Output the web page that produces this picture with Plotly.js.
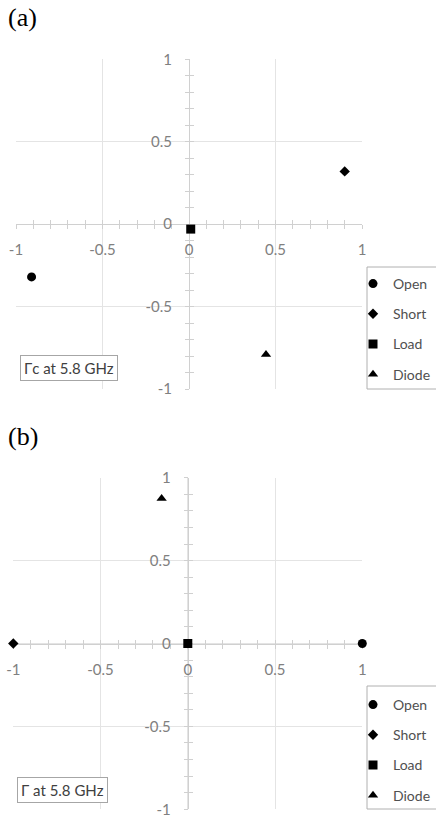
<!DOCTYPE html>
<html>
<head>
<meta charset="utf-8">
<script src="https://cdn.plot.ly/plotly-3.0.1.min.js"></script>
<style>
html,body{margin:0;padding:0;background:#fff;}
#chart{width:436px;height:818px;}
</style>
</head>
<body>
<div id="chart"></div>
<script>
// ---- data ----
const seriesNames = ["Open", "Short", "Load", "Diode"];
const symbols = ["circle", "diamond", "square", "triangle-up"];
const sizes = [9, 8, 9, 9];
// panel (a): Γc at 5.8 GHz
const aRe = [-0.91, 0.90, 0.01, 0.445];
const aIm = [-0.32, 0.32, -0.03, -0.79];
// panel (b): Γ at 5.8 GHz
const bRe = [1.0, -1.0, 0.0, -0.15];
const bIm = [0.0, 0.0, 0.0, 0.875];
const tickVals = [-1, -0.5, 0, 0.5, 1];
const tickText = ["-1", "-0.5", "0", "0.5", "1"];
const panelLabels = ["(a)", "(b)"];
const boxTexts = ["Γc at 5.8 GHz", "Γ at 5.8 GHz"];

// ---- layout geometry ----
const W = 436, H = 818;
const px = (v) => v / W;
const py = (v) => 1 - v / H;
const dom = {
  a: {x: [px(16), px(362)], y: [py(389), py(59.3)]},
  b: {x: [px(13.3), px(362.3)], y: [py(809.3), py(477.7)]}
};
const mid = (d) => (d[0] + d[1]) / 2;

const tickFont = {family: "Lato, 'Open Sans', sans-serif", size: 15, color: "#808080"};
const gridC = "#e4e4e4", lineC = "#d0d0d0";

function mainX(d, anchorMid) {
  return {
    domain: d.x, range: [-1, 1], anchor: "free", position: anchorMid, layer: "below traces",
    tickvals: tickVals, ticktext: tickText, tickfont: tickFont,
    ticks: "outside", ticklen: 4, tickcolor: lineC, tickwidth: 1,
    minor: {dtick: 0.1, ticks: "outside", ticklen: 4, tickcolor: lineC, showgrid: false},
    showgrid: true, gridcolor: gridC, gridwidth: 1,
    showline: true, linecolor: lineC, linewidth: 1,
    zeroline: false, ticklabelstandoff: 8, fixedrange: true, automargin: false
  };
}
function mainY(d, anchorMid) {
  return {
    domain: d.y, range: [-1, 1], anchor: "free", position: anchorMid, layer: "below traces",
    tickvals: tickVals, ticktext: tickText, tickfont: tickFont,
    ticks: "outside", ticklen: 4, tickcolor: lineC, tickwidth: 1,
    minor: {dtick: 0.1, ticks: "outside", ticklen: 4, tickcolor: lineC, showgrid: false},
    showgrid: true, gridcolor: gridC, gridwidth: 1,
    showline: true, linecolor: lineC, linewidth: 1,
    zeroline: false, ticklabelstandoff: 10, fixedrange: true, automargin: false
  };
}
function overX(d, anchorMid, ov) {
  return {
    domain: d.x, range: [-1, 1], anchor: "free", position: anchorMid, overlaying: ov, layer: "below traces",
    tickvals: tickVals, showticklabels: false,
    ticks: "inside", ticklen: 4, tickcolor: lineC, tickwidth: 1,
    minor: {dtick: 0.1, ticks: "inside", ticklen: 4, tickcolor: lineC, showgrid: false},
    showgrid: false, showline: false, zeroline: false, fixedrange: true, automargin: false
  };
}
function overY(d, anchorMid, ov) {
  return {
    domain: d.y, range: [-1, 1], anchor: "free", position: anchorMid, overlaying: ov, layer: "below traces",
    tickvals: tickVals, showticklabels: false,
    ticks: "inside", ticklen: 4, tickcolor: lineC, tickwidth: 1,
    minor: {dtick: 0.1, ticks: "inside", ticklen: 4, tickcolor: lineC, showgrid: false},
    showgrid: false, showline: false, zeroline: false, fixedrange: true, automargin: false
  };
}

const traces = [];
// carriers for the overlay tick axes (no data)
traces.push({type: "scatter", x: [], y: [], xaxis: "x3", yaxis: "y3", showlegend: false, hoverinfo: "skip"});
traces.push({type: "scatter", x: [], y: [], xaxis: "x4", yaxis: "y4", showlegend: false, hoverinfo: "skip"});
seriesNames.forEach((n, i) => {
  traces.push({
    type: "scatter", mode: "markers", name: n, x: [aRe[i]], y: [aIm[i]],
    xaxis: "x", yaxis: "y", legend: "legend", legendgroup: "a" + i,
    marker: {symbol: symbols[i], size: sizes[i], color: "#000"}, cliponaxis: false,
    hoverinfo: "skip"
  });
});
seriesNames.forEach((n, i) => {
  traces.push({
    type: "scatter", mode: "markers", name: n, x: [bRe[i]], y: [bIm[i]],
    xaxis: "x2", yaxis: "y2", legend: "legend2", legendgroup: "b" + i,
    marker: {symbol: symbols[i], size: sizes[i], color: "#000"}, cliponaxis: false,
    hoverinfo: "skip"
  });
});

const legendFont = {family: "Lato, 'Open Sans', sans-serif", size: 14, color: "#505050"};
function legendCfg(yTop) {
  return {
    x: px(353), xanchor: "left", y: yTop, yanchor: "top",
    bgcolor: "rgba(0,0,0,0)", borderwidth: 0,
    font: legendFont, tracegroupgap: 9, itemclick: false, itemdoubleclick: false
  };
}
// legend frames (open at the right, as in the cropped original)
const legendBoxes = [
  {x0: px(367), x1: 1.02, y0: py(389), y1: py(267)},
  {x0: px(367), x1: 1.02, y0: py(809), y1: py(686)}
];

const annFont = {family: "Lato, 'Open Sans', sans-serif", size: 15, color: "#404040"};
const layout = {
  width: W, height: H, margin: {l: 0, r: 0, t: 0, b: 0, autoexpand: false},
  paper_bgcolor: "#fff", plot_bgcolor: "rgba(0,0,0,0)", showlegend: true,
  xaxis: mainX(dom.a, mid(dom.a.y)),
  yaxis: mainY(dom.a, mid(dom.a.x)),
  xaxis2: mainX(dom.b, mid(dom.b.y)),
  yaxis2: mainY(dom.b, mid(dom.b.x)),
  xaxis3: overX(dom.a, mid(dom.a.y), "x"),
  yaxis3: overY(dom.a, mid(dom.a.x), "y"),
  xaxis4: overX(dom.b, mid(dom.b.y), "x2"),
  yaxis4: overY(dom.b, mid(dom.b.x), "y2"),
  legend: legendCfg(py(268)),
  legend2: legendCfg(py(689)),
  shapes: legendBoxes.map(b => ({type: "rect", xref: "paper", yref: "paper", x0: b.x0, x1: b.x1, y0: b.y0, y1: b.y1,
    line: {color: "#b0b0b0", width: 1}, fillcolor: "#fff", layer: "above"})),
  annotations: [
    {text: panelLabels[0], xref: "paper", yref: "paper", x: px(6), y: py(1), xanchor: "left", yanchor: "top",
     showarrow: false, font: {family: "'Liberation Serif', 'Times New Roman', serif", size: 26, color: "#000"}},
    {text: panelLabels[1], xref: "paper", yref: "paper", x: px(6), y: py(420), xanchor: "left", yanchor: "top",
     showarrow: false, font: {family: "'Liberation Serif', 'Times New Roman', serif", size: 26, color: "#000"}},
    {text: boxTexts[0], xref: "paper", yref: "paper", x: px(19.5), y: py(355), xanchor: "left", yanchor: "top",
     showarrow: false, font: annFont, bgcolor: "#fff", bordercolor: "#a6a6a6", borderwidth: 1, borderpad: 3},
    {text: boxTexts[1], xref: "paper", yref: "paper", x: px(16.5), y: py(777), xanchor: "left", yanchor: "top",
     showarrow: false, font: annFont, bgcolor: "#fff", bordercolor: "#a6a6a6", borderwidth: 1, borderpad: 3}
  ]
};

Plotly.newPlot("chart", traces, layout, {displayModeBar: false, staticPlot: true});
</script>
</body>
</html>
